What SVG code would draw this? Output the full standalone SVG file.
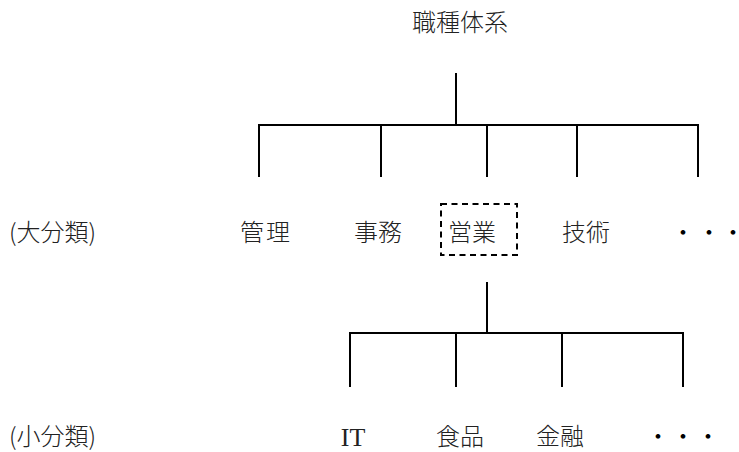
<svg xmlns="http://www.w3.org/2000/svg" width="739" height="452" viewBox="0 0 739 452">
<style>
  text { font-family: "Noto Sans CJK JP", "Noto Sans", sans-serif; font-size: 24px; font-weight: 300; fill: #222; }
  .mid { text-anchor: middle; }
  .latin { font-family: "Liberation Serif", serif; font-size: 26px; font-weight: 400; }
  .dot { text-anchor: middle; font-weight: 700; fill: #000; }
  .conn line { stroke: #000; stroke-width: 2; fill: none; }
  .sel { fill: none; stroke: #000; stroke-width: 2; stroke-dasharray: 6 4.5; }
</style>
<rect width="739" height="452" fill="#fff"/>
<g id="connectors" class="conn">
  <line x1="456" y1="73" x2="456" y2="125"/>
  <line x1="258" y1="125" x2="699" y2="125"/>
  <line x1="259" y1="125" x2="259" y2="177"/>
  <line x1="381" y1="125" x2="381" y2="177"/>
  <line x1="487" y1="125" x2="487" y2="177"/>
  <line x1="577" y1="125" x2="577" y2="177"/>
  <line x1="698" y1="125" x2="698" y2="177"/>
  <line x1="487" y1="282" x2="487" y2="333"/>
  <line x1="349" y1="333" x2="684" y2="333"/>
  <line x1="350" y1="333" x2="350" y2="387"/>
  <line x1="456" y1="333" x2="456" y2="387"/>
  <line x1="562" y1="333" x2="562" y2="387"/>
  <line x1="683" y1="333" x2="683" y2="387"/>
</g>
<g id="root"><text class="mid" x="460" y="31">職種体系</text></g>
<g id="label-large"><text x="9" y="241">(大分類)</text></g>
<g id="kanri"><text class="mid" x="266" y="241" letter-spacing="2">管理</text></g>
<g id="jimu"><text class="mid" x="378" y="241">事務</text></g>
<g id="eigyo">
  <rect class="sel" x="441" y="204" width="76" height="51"/>
  <text class="mid" x="472" y="241">営業</text>
</g>
<g id="gijutsu"><text class="mid" x="586" y="241">技術</text></g>
<g id="more-large">
  <text class="dot" x="683" y="241">･</text>
  <text class="dot" x="709" y="241">･</text>
  <text class="dot" x="733" y="241">･</text>
</g>
<g id="label-small"><text x="9" y="445">(小分類)</text></g>
<g id="it"><text class="mid latin" x="353" y="446">IT</text></g>
<g id="shokuhin"><text class="mid" x="460" y="445">食品</text></g>
<g id="kinyu"><text class="mid" x="560" y="445">金融</text></g>
<g id="more-small">
  <text class="dot" x="658" y="445">･</text>
  <text class="dot" x="683" y="445">･</text>
  <text class="dot" x="708" y="445">･</text>
</g>
</svg>
